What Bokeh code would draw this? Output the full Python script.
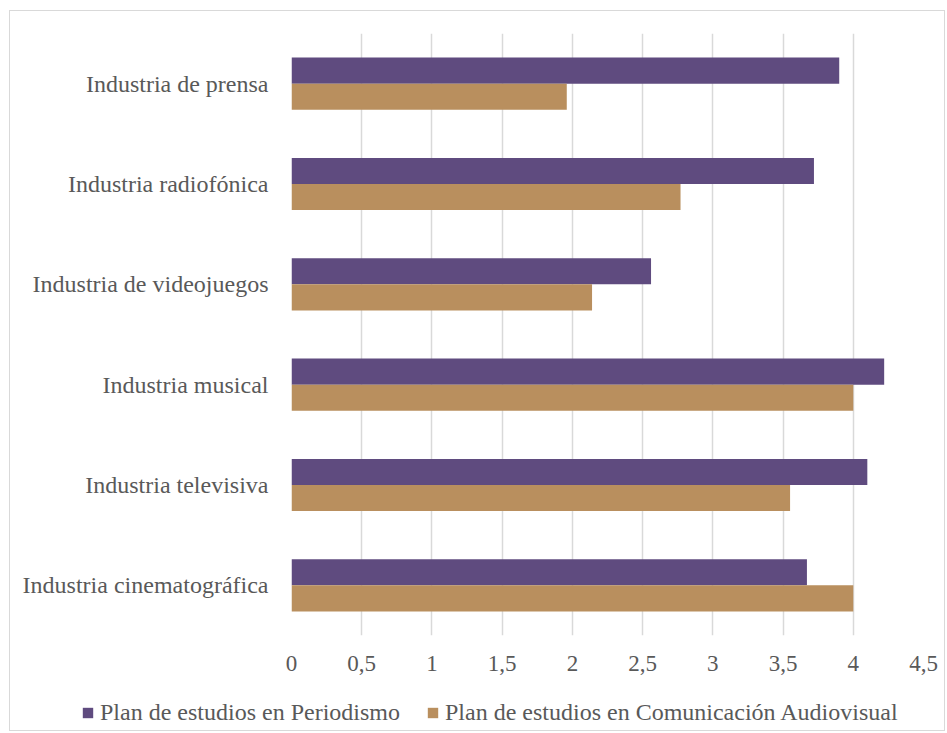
from bokeh.plotting import figure
from bokeh.layouts import column, row
from bokeh.models import FactorRange, Range1d, FixedTicker, Legend, LegendItem, ColumnDataSource
from bokeh.transform import dodge
from bokeh.embed import file_html
from bokeh.resources import INLINE

categories = ["Industria cinematográfica", "Industria televisiva", "Industria musical",
              "Industria de videojuegos", "Industria radiofónica", "Industria de prensa"]
periodismo = [3.67, 4.10, 4.22, 2.56, 3.72, 3.90]
audiovisual = [4.00, 3.55, 4.00, 2.14, 2.77, 1.96]
series_names = ["Plan de estudios en Periodismo", "Plan de estudios en Comunicación Audiovisual"]
series_colors = ["#5f4b7f", "#b98f5e"]
tick_values = [0, 0.5, 1, 1.5, 2, 2.5, 3, 3.5, 4, 4.5]
tick_labels = ["0", "0,5", "1", "1,5", "2", "2,5", "3", "3,5", "4", "4,5"]

FONT = "Liberation Serif"
TXT = "#595959"
GRID = "#d9d9d9"

src = ColumnDataSource(dict(cat=categories, per=periodismo, aud=audiovisual))

p = figure(width=934, height=669, y_range=FactorRange(*categories), x_range=Range1d(0, 4.5),
           output_backend="svg", toolbar_location=None,
           min_border_left=281, min_border_right=21, min_border_top=22, min_border_bottom=45)

r1 = p.hbar(y=dodge("cat", 0.13, range=p.y_range), right="per", left=0, height=0.26,
            source=src, fill_color=series_colors[0], line_color=None)
r2 = p.hbar(y=dodge("cat", -0.13, range=p.y_range), right="aud", left=0, height=0.26,
            source=src, fill_color=series_colors[1], line_color=None)

p.outline_line_color = None
p.ygrid.grid_line_color = None
p.xgrid.grid_line_color = GRID
p.xgrid.grid_line_width = 1.5
p.xaxis.ticker = FixedTicker(ticks=tick_values)
p.xaxis.major_label_overrides = {v: l for v, l in zip(tick_values, tick_labels)}
for ax in (p.xaxis[0], p.yaxis[0]):
    ax.axis_line_color = None
    ax.major_tick_line_color = None
    ax.minor_tick_line_color = None
    ax.major_label_text_font = FONT
    ax.major_label_text_color = TXT
p.xaxis.major_label_text_font_size = "23px"
p.yaxis.major_label_text_font_size = "24px"
p.xaxis.major_label_standoff = 14
p.yaxis.major_label_standoff = 17
p.y_range.range_padding = 0
p.y_range.factor_padding = 0

# legend strip: a separate figure carrying the same series renderers; its x range
# lies below zero, so the bars themselves fall outside it and only the legend shows
lg = figure(width=934, height=50, output_backend="svg", toolbar_location=None,
            x_axis_type=None, y_axis_type=None, min_border=0,
            min_border_left=0, min_border_right=0, min_border_top=0, min_border_bottom=0,
            x_range=Range1d(-2, -1), y_range=FactorRange(*categories))
lg.outline_line_color = None
lg.xgrid.grid_line_color = None
lg.ygrid.grid_line_color = None
lr1 = lg.hbar(y=dodge("cat", 0.13, range=lg.y_range), right="per", left=0, height=0.26,
              source=src, fill_color=series_colors[0], line_color=None)
lr2 = lg.hbar(y=dodge("cat", -0.13, range=lg.y_range), right="aud", left=0, height=0.26,
              source=src, fill_color=series_colors[1], line_color=None)
legend = Legend(items=[LegendItem(label=series_names[0], renderers=[lr1]),
                       LegendItem(label=series_names[1], renderers=[lr2])],
                orientation="horizontal", location=(71, 4),
                label_text_font=FONT, label_text_font_size="24px", label_text_color=TXT,
                glyph_width=13, glyph_height=13, label_standoff=6, spacing=26,
                padding=0, margin=0, border_line_color=None, background_fill_alpha=0)
lg.add_layout(legend, "center")

layout = column(p, row(lg), spacing=0)
layout.styles = {"border": "1px solid #d9d9d9", "margin-left": "9px", "margin-top": "10px"}

open("out.html", "w").write(file_html(layout, INLINE))
